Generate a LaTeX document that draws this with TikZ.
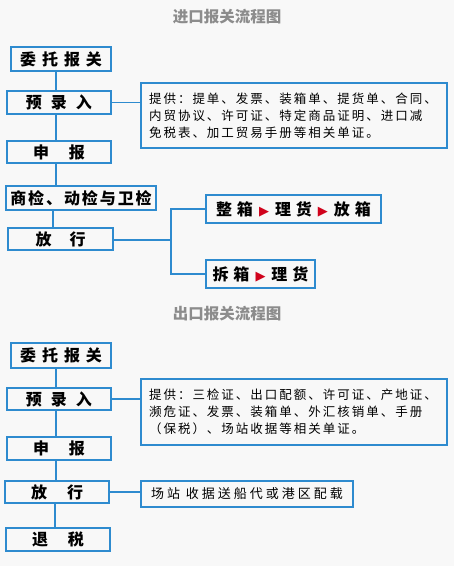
\documentclass[tikz,border=0pt]{standalone}
\usepackage{fontspec}
\newfontfamily\cjk{Noto Sans CJK SC}
\newfontfamily\sym{DejaVu Sans}
\definecolor{boxblue}{HTML}{2E8BCF}
\definecolor{titlegray}{HTML}{8C8C8C}
\definecolor{bggray}{HTML}{F8F8F8}
\definecolor{trired}{HTML}{D0021B}
\newcommand{\redtri}{{\sym\fontsize{13}{13}\selectfont\color{trired}▶}}
\tikzset{
  flowbox/.style={draw=boxblue, line width=1.6pt, inner sep=0pt,
    font=\cjk\bfseries\fontsize{16}{16}\selectfont},
  infobox/.style={draw=boxblue, line width=1.6pt, inner sep=8pt, align=left,
    text width=290pt, minimum height=65pt,
    font=\cjk\fontsize{12.5}{17}\selectfont\addfontfeature{LetterSpace=16}},
  link/.style={draw=boxblue, line width=1.4pt},
  heading/.style={text=titlegray, font=\cjk\bfseries\fontsize{15.5}{15.5}\selectfont}
}
\begin{document}
\begin{tikzpicture}[x=1pt, y=-1pt]
  \fill[bggray] (0,0) rectangle (454,566);
  \useasboundingbox (0,0) rectangle (454,566);
  % import
  \node[heading] (title1) at (227,17) {进口报关流程图};
  \node[flowbox, minimum width=100pt, minimum height=24pt] (a1) at (61,59)
    {委\hspace{6pt}托\hspace{6pt}报\hspace{6pt}关};
  \node[flowbox, minimum width=104pt, minimum height=23pt] (a2) at (59,102.5)
    {预\hspace{9pt}录\hspace{9pt}入};
  \node[flowbox, minimum width=104pt, minimum height=22pt] (a3) at (59,152)
    {申\hspace{20pt}报\hspace{12pt}};
  \node[flowbox, minimum width=150pt, minimum height=24pt,
    font=\cjk\bfseries\fontsize{16}{16}\selectfont\addfontfeature{LetterSpace=12}] (a4) at (81,198)
    {商检、动检与卫检};
  \node[flowbox, minimum width=105pt, minimum height=22pt] (a5) at (60.5,239)
    {放\hspace{18pt}行\hspace{12pt}};
  \node[infobox] (a6) at (294,115.5)
    {提供：提单、发票、装箱单、提货单、合同、\\
     内贸协议、许可证、特定商品证明、进口减\\
     免税表、加工贸易手册等相关单证。};
  \node[flowbox, minimum width=175pt, minimum height=28pt] (a7) at (293.5,209)
    {整\hspace{5pt}箱\hspace{6pt}\redtri\hspace{6pt}理\hspace{5pt}货\hspace{6pt}\redtri\hspace{6pt}放\hspace{5pt}箱};
  \node[flowbox, minimum width=109pt, minimum height=28pt] (a8) at (260.5,274)
    {拆\hspace{5pt}箱\hspace{6pt}\redtri\hspace{6pt}理\hspace{5pt}货};
  \coordinate (sa) at (56,0);
  \coordinate (sb) at (53,0);
  \coordinate (br) at (171,240);
  \draw[link] (a1.south -| sa) -- (a2.north -| sa);
  \draw[link] (a2.south -| sa) -- (a3.north -| sa);
  \draw[link] (a3.south -| sa) -- (a4.north -| sa);
  \draw[link] (a4.south -| sb) -- (a5.north -| sb);
  \draw[link] (a2.east) -- (a6.west |- a2.east);
  \draw[link] (a5.east |- br) -- (br);
  \draw[link] (a7.west) -- (a7.west -| br) -- (a8.west -| br) -- (a8.west);
  % export
  \node[heading] (title2) at (227,314) {出口报关流程图};
  \node[flowbox, minimum width=100pt, minimum height=25pt] (b1) at (61,355.5)
    {委\hspace{6pt}托\hspace{6pt}报\hspace{6pt}关};
  \node[flowbox, minimum width=104pt, minimum height=22pt] (b2) at (59,399)
    {预\hspace{9pt}录\hspace{9pt}入};
  \node[flowbox, minimum width=104pt, minimum height=23pt] (b3) at (59,448.5)
    {申\hspace{20pt}报\hspace{12pt}};
  \node[flowbox, minimum width=104pt, minimum height=22pt] (b4) at (57,492)
    {放\hspace{20pt}行\hspace{10pt}};
  \node[flowbox, minimum width=104pt, minimum height=23pt] (b5) at (58,539.5)
    {退\hspace{20pt}税\hspace{14pt}};
  \node[infobox, minimum height=66pt] (b6) at (294,412)
    {提供：三检证、出口配额、许可证、产地证、\\
     濒危证、发票、装箱单、外汇核销单、手册\\
     （保税）、场站收据等相关单证。};
  \node[flowbox, minimum width=212pt, minimum height=26pt,
    font=\cjk\fontsize{13}{13}\selectfont\addfontfeature{LetterSpace=23}] (b7) at (247,494)
    {场站 收据送船代或港区配载};
  \coordinate (sc) at (56,0);
  \coordinate (sd) at (55,0);
  \draw[link] (b1.south -| sc) -- (b2.north -| sc);
  \draw[link] (b2.south -| sc) -- (b3.north -| sc);
  \draw[link] (b3.south -| sc) -- (b4.north -| sc);
  \draw[link] (b4.south -| sd) -- (b5.north -| sd);
  \draw[link] (b2.east) -- (b6.west |- b2.east);
  \draw[link] (b4.east) -- (b7.west |- b4.east);
\end{tikzpicture}
\end{document}
